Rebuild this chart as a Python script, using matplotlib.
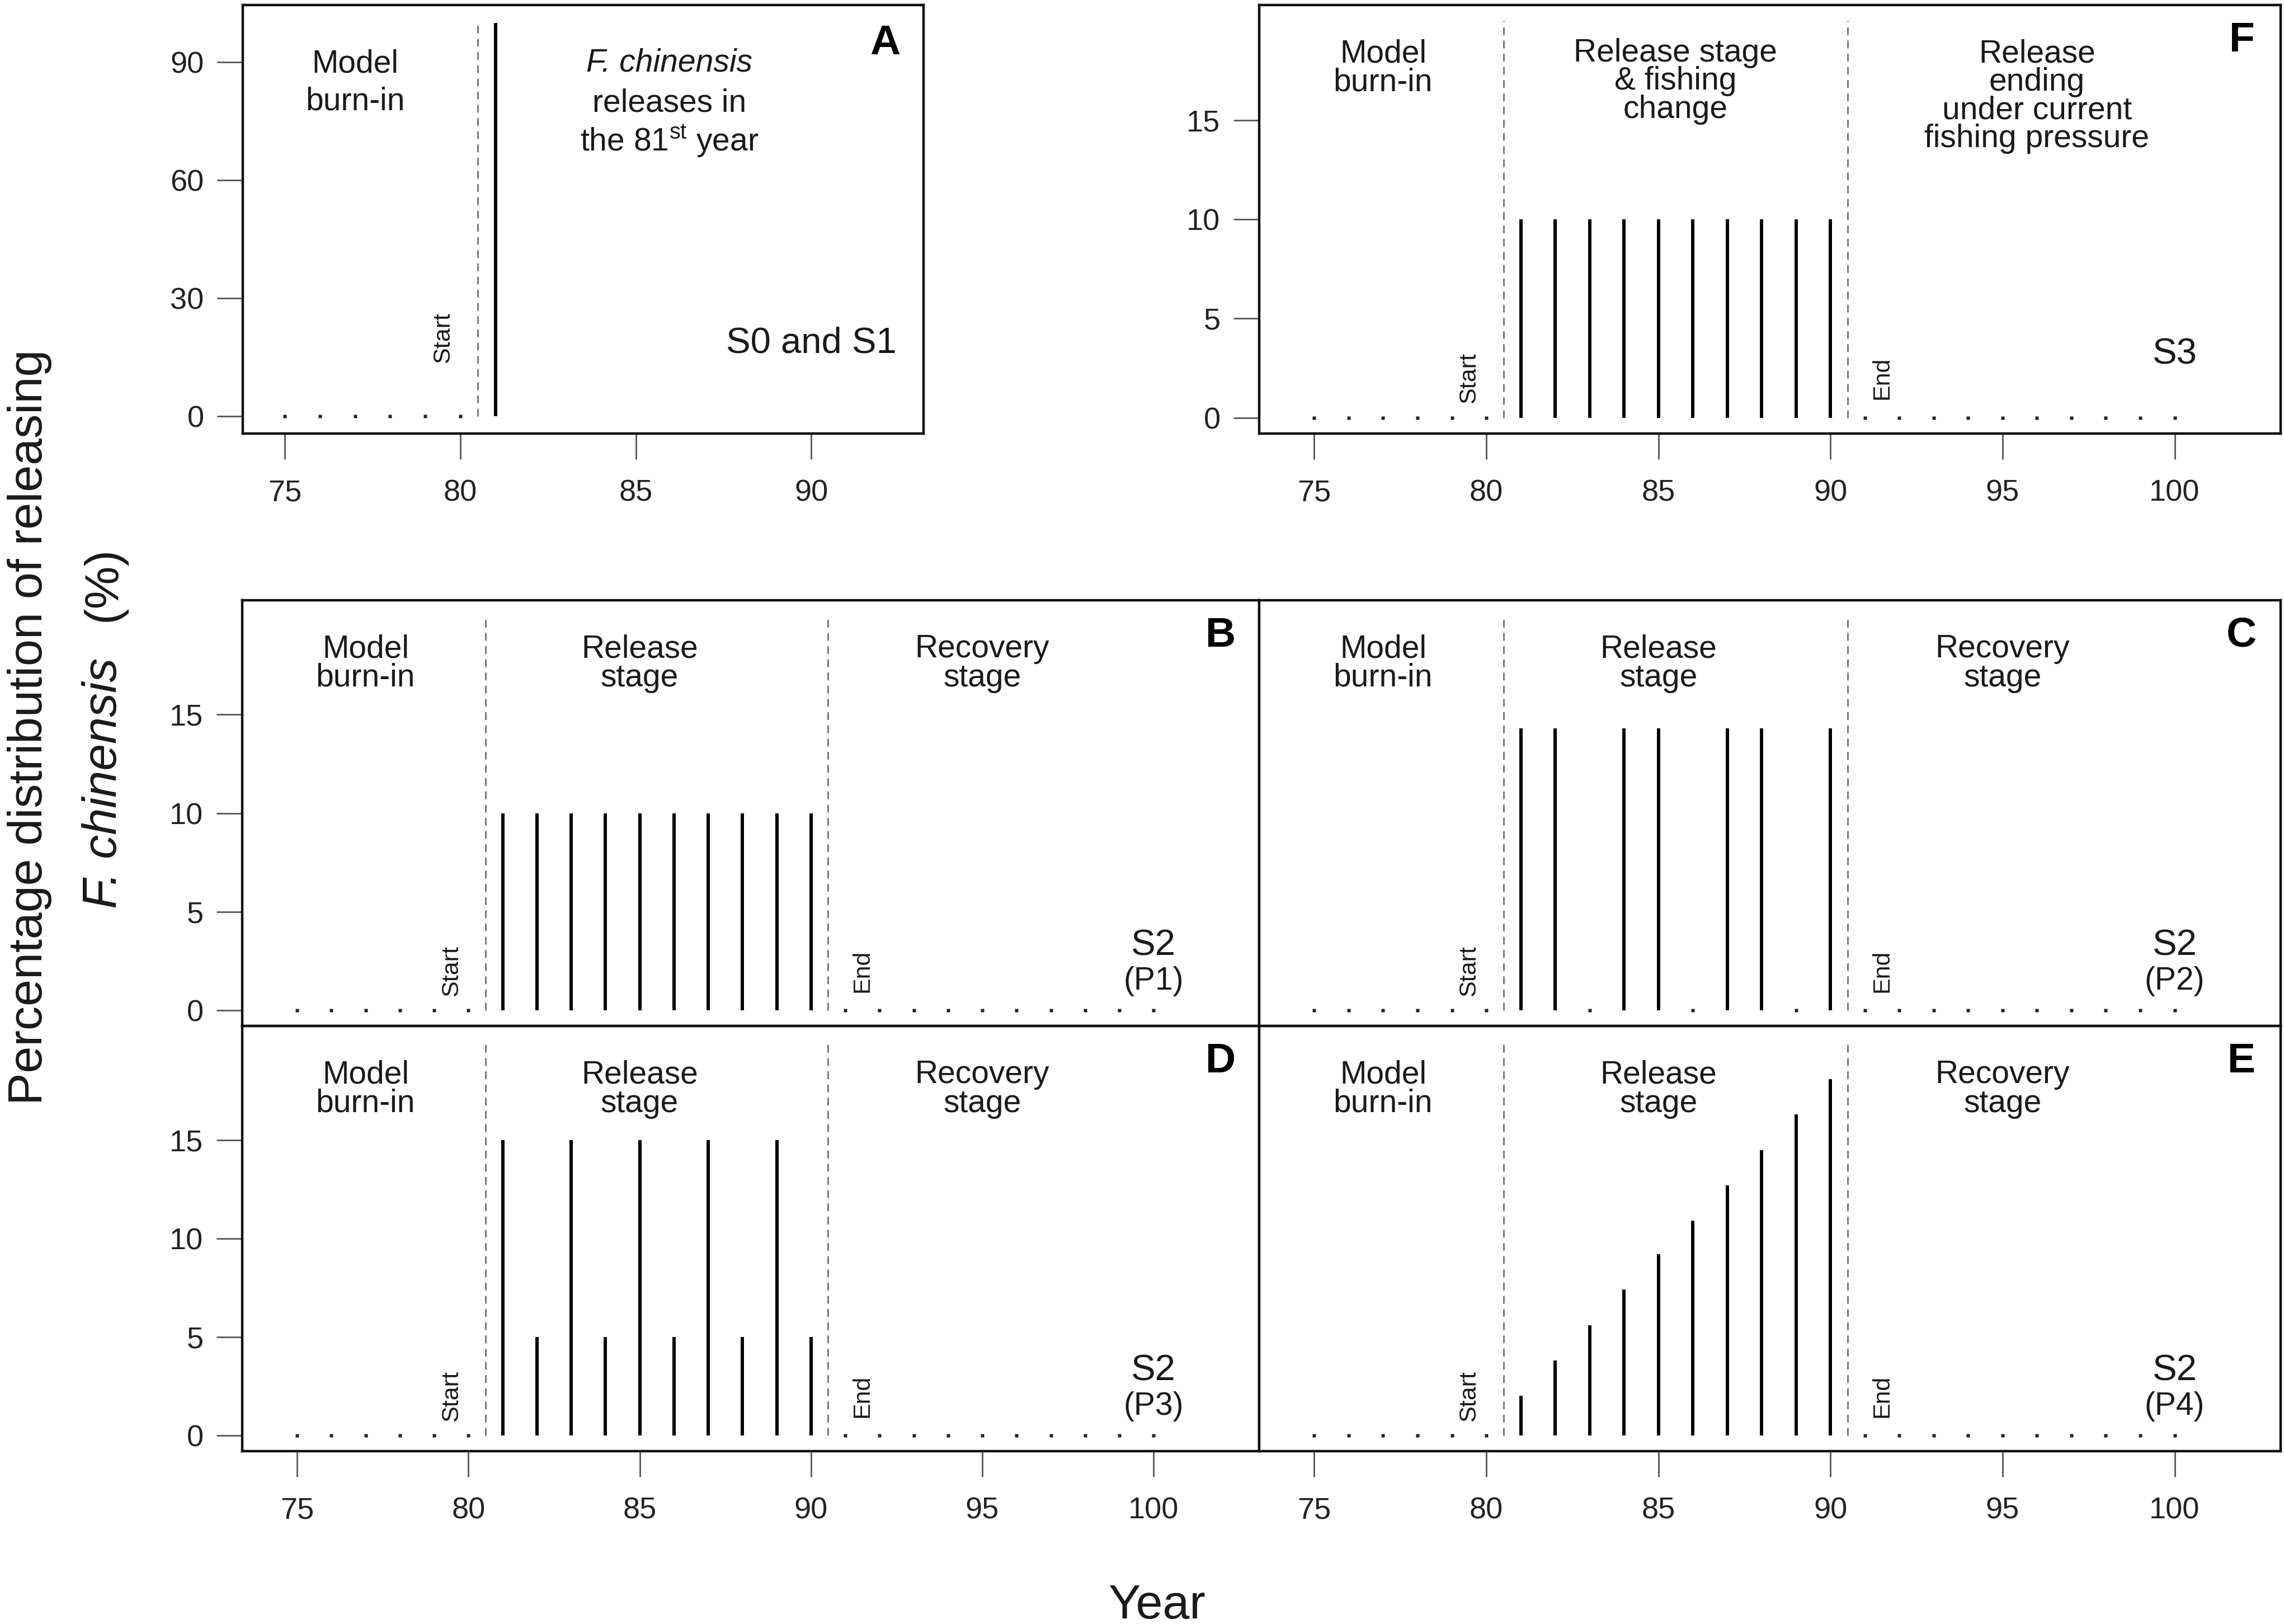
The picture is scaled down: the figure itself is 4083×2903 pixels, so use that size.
import numpy as np
import matplotlib.pyplot as plt

plt.rcParams['font.family'] = ['Liberation Sans', 'DejaVu Sans']
plt.rcParams['mathtext.fontset'] = 'custom'
plt.rcParams['mathtext.rm'] = 'Liberation Sans'
plt.rcParams['mathtext.it'] = 'Liberation Sans:italic'

# years shown in each panel
years_a = [75, 76, 77, 78, 79, 80, 81]
years = [75, 76, 77, 78, 79, 80, 81, 82, 83, 84, 85, 86, 87, 88, 89, 90,
         91, 92, 93, 94, 95, 96, 97, 98, 99, 100]

# percentage released per year
s0_s1 = [0, 0, 0, 0, 0, 0, 100]
s3 = [0, 0, 0, 0, 0, 0, 10, 10, 10, 10, 10, 10, 10, 10, 10, 10,
      0, 0, 0, 0, 0, 0, 0, 0, 0, 0]
p1 = [0, 0, 0, 0, 0, 0, 10, 10, 10, 10, 10, 10, 10, 10, 10, 10,
      0, 0, 0, 0, 0, 0, 0, 0, 0, 0]
p2 = [0, 0, 0, 0, 0, 0, 14.3, 14.3, 0, 14.3, 14.3, 0, 14.3, 14.3, 0, 14.3,
      0, 0, 0, 0, 0, 0, 0, 0, 0, 0]
p3 = [0, 0, 0, 0, 0, 0, 15, 5, 15, 5, 15, 5, 15, 5, 15, 5,
      0, 0, 0, 0, 0, 0, 0, 0, 0, 0]
p4 = [0, 0, 0, 0, 0, 0, 2.0, 3.8, 5.6, 7.4, 9.2, 10.9, 12.7, 14.5, 16.3, 18.1,
      0, 0, 0, 0, 0, 0, 0, 0, 0, 0]

W, H = 4083, 2903
TXT = '#1a1a1a'


def box(l, t, r, b):
    return [l / W, 1 - b / H, (r - l) / W, (b - t) / H]


def draw_bars(ax, x, y):
    x = np.asarray(x, float)
    y = np.asarray(y, float)
    nz = y > 0
    ax.vlines(x[nz], 0, y[nz], color='black', lw=4.3)
    ax.plot(x[~nz], y[~nz], 's', ms=3.8, color='#222222', mec='none')


def setup(ax, xlim, ylim, yticks, xlab=True, ylab=True):
    ax.set_xlim(*xlim)
    ax.set_ylim(*ylim)
    ax.set_xticks([75, 80, 85, 90, 95, 100] if xlim[1] > 100 else [75, 80, 85, 90])
    ax.set_yticks(yticks)
    for s in ax.spines.values():
        s.set_linewidth(3.2)
        s.set_color('#111111')
    ax.tick_params(direction='out', length=33, width=2, color='#555555',
                   labelsize=39, labelcolor='#222222')
    ax.tick_params(axis='x', pad=26, bottom=xlab, labelbottom=xlab)
    ax.tick_params(axis='y', pad=17, left=ylab, labelleft=ylab)


def stage_text(ax, x, lines, y0, step, size=41):
    for i, t in enumerate(lines):
        ax.text(x, y0 - i * step, t, ha='center', va='baseline',
                fontsize=size, color=TXT)


def stage_lines(ax, xs, top):
    ax.vlines(xs, 0, top, colors='#707070', lw=2, linestyles=(0, (5, 3.5)))


def letter(ax, x, y, s):
    ax.text(x, y, s, ha='center', va='center', fontsize=54,
            fontweight='bold', color='black')


fig = plt.figure(figsize=(W / 100, H / 100), dpi=100)

XL = (73.4, 103.08)
YL = (-0.8, 20.8)
T5 = [0, 5, 10, 15]

# ---- panel A
ax = fig.add_axes(box(434, 9, 1651, 775))
setup(ax, (73.8, 93.2), (-4.4, 104.5), [0, 30, 60, 90])
stage_lines(ax, [80.5], 100)
draw_bars(ax, years_a, s0_s1)
stage_text(ax, 77, ['Model', 'burn-in'], 87.4, 9.6)
ax.text(85.95, 87.6, 'F. chinensis', ha='center', va='baseline',
        fontsize=41, color=TXT, fontstyle='italic')
ax.text(85.95, 77.4, 'releases in', ha='center', va='baseline',
        fontsize=41, color=TXT)
ax.text(85.95, 67.3, r'the 81$^{\mathrm{st}}$ year', ha='center',
        va='baseline', fontsize=41, color=TXT)
ax.text(79.5, 20, 'Start', rotation=90, ha='center', va='center',
        fontsize=31, color=TXT)
ax.text(90, 16.2, 'S0 and S1', ha='center', va='baseline', fontsize=47,
        color=TXT)
letter(ax, 92.1, 94.8, 'A')

# ---- panel F
ax = fig.add_axes(box(2251, 9, 4077, 775))
setup(ax, XL, YL, T5)
stage_lines(ax, [80.5, 90.5], 20)
draw_bars(ax, years, s3)
stage_text(ax, 77, ['Model', 'burn-in'], 17.9, 1.42)
stage_text(ax, 85.5, ['Release stage', '& fishing', 'change'], 17.95, 1.42)
stage_text(ax, 96.0, ['Release', 'ending', 'under current',
                      'fishing pressure'], 17.9, 1.42)
ax.text(79.5, 2.0, 'Start', rotation=90, ha='center', va='center',
        fontsize=31, color=TXT)
ax.text(91.5, 2.0, 'End', rotation=90, ha='center', va='center',
        fontsize=31, color=TXT)
ax.text(100, 2.7, 'S3', ha='center', va='baseline', fontsize=47, color=TXT)
letter(ax, 101.95, 19.0, 'F')

# ---- panels B to E
panels = [
    (box(433, 1073, 2251, 1834), p1, 'B', '(P1)', False, True),
    (box(2251, 1073, 4077, 1834), p2, 'C', '(P2)', False, False),
    (box(433, 1834, 2251, 2594), p3, 'D', '(P3)', True, True),
    (box(2251, 1834, 4077, 2594), p4, 'E', '(P4)', True, False),
]
for rect, vals, lab, plab, xlab, ylab in panels:
    ax = fig.add_axes(rect)
    setup(ax, XL, YL, T5, xlab, ylab)
    stage_lines(ax, [80.5, 90.5], 20)
    draw_bars(ax, years, vals)
    stage_text(ax, 77, ['Model', 'burn-in'], 17.9, 1.47)
    stage_text(ax, 85, ['Release', 'stage'], 17.9, 1.47)
    stage_text(ax, 95, ['Recovery', 'stage'], 17.9, 1.47)
    ax.text(79.5, 2.0, 'Start', rotation=90, ha='center', va='center',
            fontsize=31, color=TXT)
    ax.text(91.5, 2.0, 'End', rotation=90, ha='center', va='center',
            fontsize=31, color=TXT)
    ax.text(100, 2.8, 'S2', ha='center', va='baseline', fontsize=47,
            color=TXT)
    ax.text(100, 1.05, plab, ha='center', va='baseline', fontsize=41,
            color=TXT)
    letter(ax, 101.95, 19.0, lab)

# ---- shared axis labels
fig.text(75 / W, 1 - 1300 / H, 'Percentage distribution of releasing',
         rotation=90, rotation_mode='anchor', ha='center', va='baseline',
         fontsize=62, color=TXT)
fig.text(208 / W, 1 - 1400 / H, 'F. chinensis', rotation=90,
         rotation_mode='anchor', ha='center', va='baseline', fontsize=62,
         color=TXT, fontstyle='italic')
fig.text(208 / W, 1 - 1044 / H, '(%)', rotation=90, rotation_mode='anchor',
         ha='center', va='baseline', fontsize=62, color=TXT)
fig.text(2068 / W, 10 / H, 'Year', ha='center', va='baseline', fontsize=62,
         color=TXT)

fig.savefig('out.png', dpi=100, facecolor='white')
